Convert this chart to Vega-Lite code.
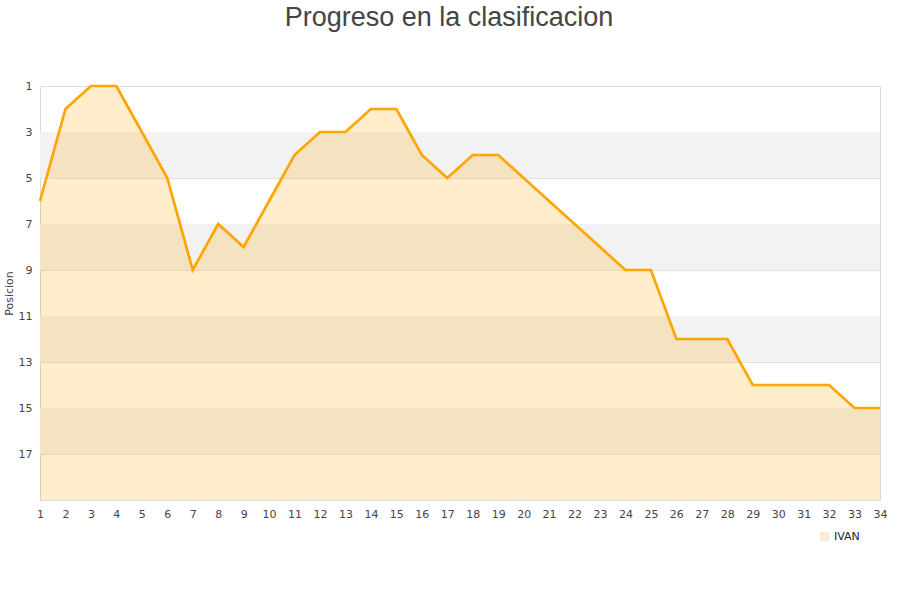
{
  "$schema": "https://vega.github.io/schema/vega-lite/v6.json",
  "width": 840,
  "height": 414,
  "autosize": {"type": "none"},
  "padding": {"left": 40, "top": 86, "right": 20, "bottom": 100},
  "background": "white",
  "config": {
    "view": {"stroke": "#d9d9d9", "strokeWidth": 1},
    "font": "Liberation Sans",
    "legend": {"symbolStrokeColor": "#a89070", "symbolStrokeWidth": 1, "symbolFillColor": "#ffedcc"}
  },
  "title": {
    "text": "Progreso en la clasificacion",
    "fontSize": 27,
    "fontWeight": "normal",
    "color": "#444444",
    "font": "Liberation Sans",
    "anchor": "middle",
    "frame": "group",
    "dx": -11,
    "offset": 48
  },
  "datasets": {
    "bands": [
      {"y0": 3, "y1": 5},
      {"y0": 7, "y1": 9},
      {"y0": 11, "y1": 13},
      {"y0": 15, "y1": 17}
    ],
    "pos": [
      {"jornada": 1, "posicion": 6, "jugador": "IVAN"},
      {"jornada": 2, "posicion": 2, "jugador": "IVAN"},
      {"jornada": 3, "posicion": 1, "jugador": "IVAN"},
      {"jornada": 4, "posicion": 1, "jugador": "IVAN"},
      {"jornada": 5, "posicion": 3, "jugador": "IVAN"},
      {"jornada": 6, "posicion": 5, "jugador": "IVAN"},
      {"jornada": 7, "posicion": 9, "jugador": "IVAN"},
      {"jornada": 8, "posicion": 7, "jugador": "IVAN"},
      {"jornada": 9, "posicion": 8, "jugador": "IVAN"},
      {"jornada": 10, "posicion": 6, "jugador": "IVAN"},
      {"jornada": 11, "posicion": 4, "jugador": "IVAN"},
      {"jornada": 12, "posicion": 3, "jugador": "IVAN"},
      {"jornada": 13, "posicion": 3, "jugador": "IVAN"},
      {"jornada": 14, "posicion": 2, "jugador": "IVAN"},
      {"jornada": 15, "posicion": 2, "jugador": "IVAN"},
      {"jornada": 16, "posicion": 4, "jugador": "IVAN"},
      {"jornada": 17, "posicion": 5, "jugador": "IVAN"},
      {"jornada": 18, "posicion": 4, "jugador": "IVAN"},
      {"jornada": 19, "posicion": 4, "jugador": "IVAN"},
      {"jornada": 20, "posicion": 5, "jugador": "IVAN"},
      {"jornada": 21, "posicion": 6, "jugador": "IVAN"},
      {"jornada": 22, "posicion": 7, "jugador": "IVAN"},
      {"jornada": 23, "posicion": 8, "jugador": "IVAN"},
      {"jornada": 24, "posicion": 9, "jugador": "IVAN"},
      {"jornada": 25, "posicion": 9, "jugador": "IVAN"},
      {"jornada": 26, "posicion": 12, "jugador": "IVAN"},
      {"jornada": 27, "posicion": 12, "jugador": "IVAN"},
      {"jornada": 28, "posicion": 12, "jugador": "IVAN"},
      {"jornada": 29, "posicion": 14, "jugador": "IVAN"},
      {"jornada": 30, "posicion": 14, "jugador": "IVAN"},
      {"jornada": 31, "posicion": 14, "jugador": "IVAN"},
      {"jornada": 32, "posicion": 14, "jugador": "IVAN"},
      {"jornada": 33, "posicion": 15, "jugador": "IVAN"},
      {"jornada": 34, "posicion": 15, "jugador": "IVAN"}
    ]
  },
  "layer": [
    {
      "data": {"name": "bands"},
      "mark": {"type": "rect", "fill": "#f2f2f2"},
      "encoding": {
        "y": {"field": "y0", "type": "quantitative", "scale": {"domain": [1, 19], "reverse": true, "nice": false, "zero": false}},
        "y2": {"field": "y1"}
      }
    },
    {
      "data": {"name": "pos"},
      "encoding": {
        "x": {
          "field": "jornada", "type": "quantitative",
          "scale": {"domain": [1, 34], "nice": false, "zero": false},
          "axis": {
            "values": [1,2,3,4,5,6,7,8,9,10,11,12,13,14,15,16,17,18,19,20,21,22,23,24,25,26,27,28,29,30,31,32,33,34],
            "tickCount": 34,
            "title": null, "grid": false, "ticks": false, "domain": false,
            "labelFontSize": 11, "labelColor": "#444444", "labelPadding": 8, "labelFont": "DejaVu Sans",
            "labelFlush": false, "labelOverlap": false, "labelBound": false
          }
        },
        "y": {
          "field": "posicion", "type": "quantitative",
          "scale": {"domain": [1, 19], "reverse": true, "nice": false, "zero": false},
          "axis": {
            "values": [1,3,5,7,9,11,13,15,17],
            "title": "Posicion", "titleFontSize": 11, "titleFontWeight": "normal", "titleColor": "#444444", "titleFont": "DejaVu Sans", "titlePadding": 4,
            "grid": true, "gridColor": "#e0e0e0", "ticks": false, "domain": false,
            "labelFontSize": 11, "labelColor": "#444444", "labelPadding": 8, "labelFont": "DejaVu Sans", "labelOverlap": false
          }
        }
      },
      "layer": [
        {
          "mark": {"type": "area", "opacity": 0.2, "interpolate": "linear"},
          "encoding": {
            "y2": {"datum": 19},
            "color": {
              "field": "jugador", "type": "nominal",
              "scale": {"range": ["#ffa500"]},
              "legend": {
                "title": null, "orient": "none", "legendX": 779, "legendY": 445,
                "symbolType": "square", "symbolSize": 70,
                "labelFontSize": 11, "labelColor": "#222222", "labelFont": "DejaVu Sans",
                "encode": {"symbols": {
                  "enter": {"fill": {"value": "#ffedcc"}, "stroke": {"value": "#a89070"}, "strokeWidth": {"value": 1}},
                  "update": {"fill": {"value": "#ffedcc"}, "stroke": {"value": "#a89070"}, "strokeWidth": {"value": 1}, "opacity": {"value": 1}, "fillOpacity": {"value": 1}, "strokeOpacity": {"value": 1}}
                }}
              }
            }
          }
        },
        {
          "mark": {"type": "line", "color": "#ffa500", "strokeWidth": 2.7}
        }
      ]
    }
  ]
}
